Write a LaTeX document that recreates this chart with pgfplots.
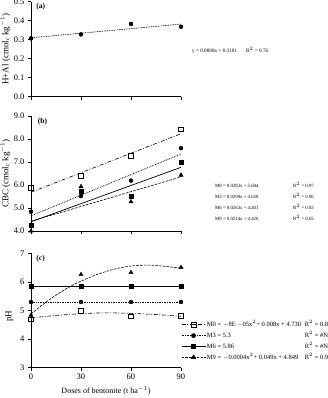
\documentclass[border=0pt]{standalone}
\usepackage{pgfplots}
\pgfplotsset{compat=1.18}
\usepackage{fontspec}
\setmainfont{Liberation Serif}

\pgfplotsset{
  panel/.style={
    scale only axis, width=150pt, anchor=south west,
    xmin=0, xmax=90, xtick={0,30,60,90},
    enlargelimits=false, clip=false,
    axis x line*=bottom, axis y line*=left,
    every non boxed x axis/.append style={x axis line style=-},
    every non boxed y axis/.append style={y axis line style=-},
    axis line style={black, line width=0.6pt},
    tick align=outside, major tick length=3pt,
    tick style={black, line width=0.5pt},
    ticklabel style={font=\fontsize{8.5}{9}\selectfont},
    /pgf/number format/assume math mode=true,
    ylabel style={font=\fontsize{9}{10}\selectfont, at={(axis description cs:-0.115,0.5)}},
    xlabel style={font=\fontsize{8}{9}\selectfont},
  },
}
\tikzset{
  tag/.style={font=\bfseries\fontsize{7.5}{8}\selectfont, anchor=north west, inner sep=0pt},
  dotmark/.style={only marks, mark=*, mark size=2pt, black},
  sqmark/.style={only marks, mark=square*, mark size=2pt, black},
  osqmark/.style={only marks, mark=square, mark size=2.4pt, black, mark options={solid, fill=white}},
  trimark/.style={only marks, mark=triangle*, mark size=2.4pt, black},
  ddline/.style={black, line width=0.6pt, dash pattern=on 4pt off 1.6pt on 1pt off 1.6pt},
  dotline/.style={black, line width=0.7pt, dash pattern=on 0.8pt off 0.9pt},
  solline/.style={black, line width=0.7pt},
  dashline/.style={black, line width=0.6pt, dash pattern=on 2.6pt off 1.2pt},
}

\begin{document}
\begin{tikzpicture}

% (a) exchangeable acidity
\begin{axis}[panel, at={(31pt,301.3pt)}, height=95pt,
  ymin=0, ymax=0.5, ytick={0,0.1,...,0.5},
  yticklabel style={/pgf/number format/.cd, fixed, fixed zerofill, precision=1},
  xticklabels={,,,},
  ylabel={H+Al (cmol$_\mathrm{c}$ kg$^{-1}$)}]
  \addplot[dotline] coordinates {(0,0.3101) (90,0.3821)};
  \addplot[dotmark] coordinates {(0,0.307) (30,0.328) (60,0.383) (90,0.368)};
  \node[tag] at (axis description cs:0.035,0.99) {(a)};
\end{axis}

% (b) cation exchange capacity
\begin{axis}[panel, at={(31pt,167pt)}, height=115pt,
  ymin=4, ymax=9, ytick={4,5,...,9},
  yticklabel style={/pgf/number format/.cd, fixed, fixed zerofill, precision=1},
  xticklabels={,,,},
  ylabel={CBC (cmol$_\mathrm{c}$ kg$^{-1}$)}]
  \addplot[ddline]   coordinates {(0,5.684) (90,8.231)};
  \addplot[dotline]  coordinates {(0,4.658) (90,7.349)};
  \addplot[solline]  coordinates {(0,4.401) (90,6.768)};
  \addplot[dashline] coordinates {(0,4.426) (90,6.352)};
  \addplot[osqmark] coordinates {(0,5.88) (30,6.42) (60,7.27) (90,8.43)};
  \addplot[dotmark] coordinates {(0,4.84) (30,5.52) (60,6.19) (90,7.60)};
  \addplot[trimark] coordinates {(0,4.00) (30,5.93) (60,5.27) (90,6.43)};
  \addplot[sqmark]  coordinates {(0,4.26) (30,5.75) (60,5.50) (90,6.97)};
  \node[tag] at (axis description cs:0.045,0.98) {(b)};
\end{axis}

% (c) soil pH
\begin{axis}[panel, at={(31pt,30.3pt)}, height=114.3pt,
  ymin=3, ymax=7, ytick={3,4,...,7},
  ylabel={pH},
  ylabel style={at={(axis description cs:-0.095,0.45)}},
  xlabel={Doses of bentonite (t ha$^{-1}$)},
  legend cell align=left,
  legend style={at={(axis description cs:1.0,0.415)}, anchor=north west,
    draw=none, fill=none, inner sep=0pt, row sep=2.4pt,
    font=\fontsize{6.5}{7}\selectfont,
    nodes={inner sep=1pt, text height=5pt, text depth=1.5pt}},
  legend image code/.code={\draw[mark repeat=2, mark phase=2, #1]
    plot coordinates {(0pt,0pt) (12pt,0pt) (24pt,0pt)};}]
  \addlegendimage{ddline, mark=square, mark size=2.4pt, mark options={solid, fill=white}}
  \addlegendentry{\makebox[98pt][l]{M0 = $-$8E\,$-$05x$^2$+ 0.008x + 4.730}R$^2$ = 0.81}
  \addlegendimage{dotline, mark=*, mark size=2pt, mark options={solid}}
  \addlegendentry{\makebox[98pt][l]{M3 = 5.3}R$^2$ = \#N/A}
  \addlegendimage{solline, mark=square*, mark size=2pt}
  \addlegendentry{\makebox[98pt][l]{M6 = 5.86}R$^2$ = \#N/A}
  \addlegendimage{dashline, mark=triangle*, mark size=2.4pt, mark options={solid}}
  \addlegendentry{\makebox[98pt][l]{M9 = $-$0.0004x$^2$+ 0.049x + 4.849}R$^2$ = 0.93}

  \addplot[ddline, smooth, forget plot] coordinates
    {(0,4.74) (15,4.83) (30,4.89) (45,4.92) (60,4.90) (75,4.86) (90,4.80)};
  \addplot[dotline, forget plot] coordinates {(0,5.3) (90,5.3)};
  \addplot[solline, forget plot] coordinates {(0,5.86) (90,5.86)};
  \addplot[dashline, smooth, forget plot] coordinates
    {(0,4.88) (6,5.16) (12,5.42) (18,5.65) (24,5.86) (30,6.03) (40,6.27)
     (50,6.45) (60,6.56) (70,6.59) (80,6.55) (90,6.48)};
  \addplot[osqmark, forget plot] coordinates {(0,4.70) (30,5.00) (60,4.80) (90,4.82)};
  \addplot[dotmark, forget plot] coordinates {(0,5.3) (30,5.3) (60,5.3) (90,5.3)};
  \addplot[sqmark, forget plot]  coordinates {(0,5.86) (30,5.86) (60,5.86) (90,5.86)};
  \addplot[trimark, forget plot] coordinates {(0,4.84) (30,6.26) (60,6.33) (90,6.51)};
  \node[tag] at (axis description cs:0.035,0.985) {(c)};
\end{axis}

% fitted equations
\node[anchor=west, inner sep=0pt, font=\fontsize{5.2}{6}\selectfont] at (192pt,348pt)
  {\makebox[54pt][l]{y = 0.0008x + 0.3101}R$^2$ = 0.76};
\begin{scope}[every node/.style={anchor=west, inner sep=0pt, font=\fontsize{4.8}{6}\selectfont}]
  \node at (215pt,213pt) {\makebox[78pt][l]{M0 = 0.0283x + 5.684}R$^2$ = 0.97};
  \node at (215pt,202pt) {\makebox[78pt][l]{M3 = 0.0299x + 4.658}R$^2$ = 0.96};
  \node at (215pt,191pt) {\makebox[78pt][l]{M6 = 0.0263x + 4.401}R$^2$ = 0.83};
  \node at (215pt,180pt) {\makebox[78pt][l]{M9 = 0.0214x + 4.426}R$^2$ = 0.65};
\end{scope}

\pgfresetboundingbox
\path[use as bounding box] (0pt,0pt) rectangle (327pt,398pt);
\end{tikzpicture}
\end{document}
